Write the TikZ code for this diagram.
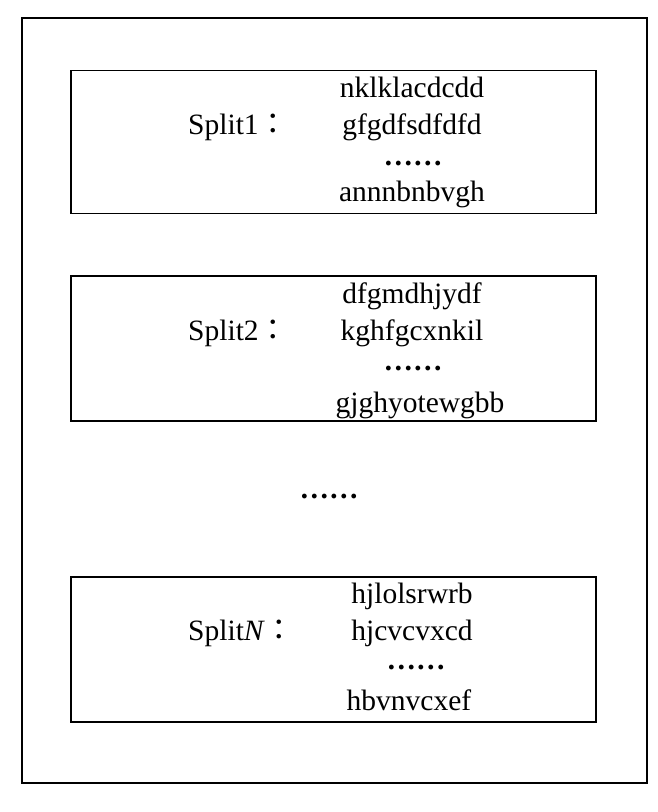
\documentclass[tikz,border=0pt]{standalone}
\usepackage{fontspec}
\setmainfont{Liberation Serif}
\newfontfamily\cjk{Noto Sans CJK TC}
\begin{document}
\begin{tikzpicture}[x=1pt,y=-1pt,
  frame/.style={draw=black,line width=1.6pt,inner sep=0pt},
  txt/.style={inner sep=0pt,anchor=base,font=\fontsize{29.5}{34}\selectfont},
  dotsx/.style={inner sep=0pt,anchor=base,font=\fontsize{29.5}{34}\selectfont\bfseries},
  lbl/.style={inner sep=0pt,anchor=base west,font=\fontsize{29.5}{34}\selectfont}]
\useasboundingbox (0,0) rectangle (657,812);
\node[frame,minimum width=625pt,minimum height=765pt] (outer) at (334.5,400.5) {};
% box 1
\node[frame,minimum width=525pt,minimum height=143pt] (box1) at (333.5,142) {};
\node[lbl] (l1) at (188,134) {Split1\cjk{：}};
\node[txt] (a1) at (412,97) {nklklacdcdd};
\node[txt] (b1) at (412,134) {gfgdfsdfdfd};
\node[dotsx] (c1) at (413,165) {……};
\node[txt] (d1) at (412,201) {annnbnbvgh};
% box 2
\node[frame,minimum width=525pt,minimum height=145pt] (box2) at (333.5,348.5) {};
\node[lbl] (l2) at (188,340) {Split2\cjk{：}};
\node[txt] (a2) at (412,303) {dfgmdhjydf};
\node[txt] (b2) at (412,340) {kghfgcxnkil};
\node[dotsx] (c2) at (413,370) {……};
\node[txt] (d2) at (420,412) {gjghyotewgbb};
% middle dots
\node[dotsx] (mid) at (329,498) {……};
% box 3
\node[frame,minimum width=525pt,minimum height=145pt] (box3) at (333.5,649.5) {};
\node[lbl] (l3) at (188,640) {Split\textit{N}\cjk{：}};
\node[txt] (a3) at (412,603) {hjlolsrwrb};
\node[txt] (b3) at (412,640) {hjcvcvxcd};
\node[dotsx] (c3) at (416,669) {……};
\node[txt] (d3) at (409,710) {hbvnvcxef};
\end{tikzpicture}
\end{document}
